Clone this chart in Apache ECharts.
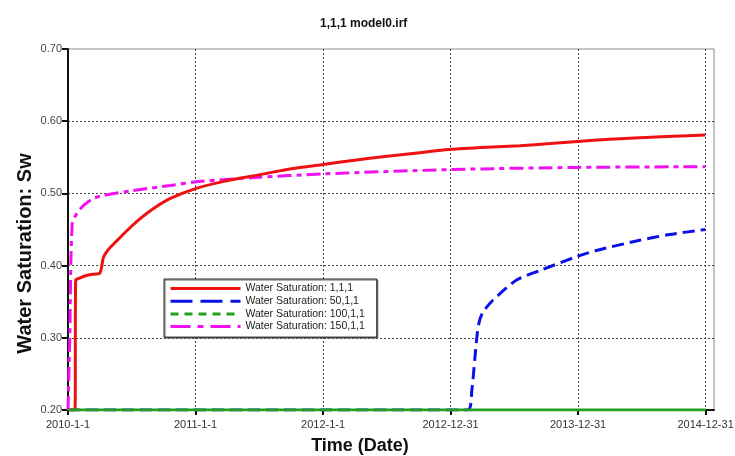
<!DOCTYPE html>
<html>
<head>
<meta charset="utf-8">
<script src="https://cdn.jsdelivr.net/npm/echarts@6/dist/echarts.min.js"></script>
<style>html,body{margin:0;padding:0;background:#fff}#c{width:735px;height:456px}</style>
</head>
<body>
<div id="c"></div>
<script>
// x values are days since 2010-01-01
const xTickDays = [0, 365, 730, 1095, 1460, 1825];
const xTickLabels = ['2010-1-1', '2011-1-1', '2012-1-1', '2012-12-31', '2013-12-31', '2014-12-31'];
const seriesNames = ['Water Saturation: 1,1,1', 'Water Saturation: 50,1,1', 'Water Saturation: 100,1,1', 'Water Saturation: 150,1,1'];

const sw1Days = [0, 20, 22, 35, 50, 70, 90, 96, 101, 115, 141, 170, 199, 245, 293, 367, 450, 550, 640, 730, 820, 907, 1000, 1096, 1200, 1293, 1380, 1459, 1550, 1636, 1730, 1824];
const sw1Vals = [0.20, 0.20, 0.38, 0.383, 0.386, 0.388, 0.389, 0.397, 0.411, 0.422, 0.435, 0.449, 0.462, 0.479, 0.493, 0.507, 0.517, 0.526, 0.534, 0.540, 0.546, 0.551, 0.556, 0.561, 0.564, 0.566, 0.569, 0.572, 0.575, 0.577, 0.579, 0.581];

const sw50Days = [0, 1144, 1156, 1164, 1170, 1176, 1187, 1216, 1284, 1350, 1459, 1521, 1636, 1721, 1824];
const sw50Vals = [0.20, 0.20, 0.228, 0.269, 0.30, 0.32, 0.335, 0.352, 0.38, 0.393, 0.413, 0.422, 0.435, 0.443, 0.45];

const sw100Days = [0, 1825];
const sw100Vals = [0.20, 0.20];

const sw150Days = [0, 5, 12, 25, 44, 73, 101, 187, 293, 367, 536, 730, 1096, 1459, 1824];
const sw150Vals = [0.20, 0.30, 0.458, 0.472, 0.483, 0.493, 0.497, 0.504, 0.511, 0.516, 0.522, 0.527, 0.533, 0.536, 0.537];

const zip = (a, b) => a.map((d, i) => [d, b[i]]);

const colors = ['#ee1111', '#0a10e8', '#22a022', '#f010f0'];
const font = 'Arial, "Liberation Sans", sans-serif';
const hideSym = { opacity: 0, borderWidth: 0 };

const chart = echarts.init(document.getElementById('c'));
chart.setOption({
  animation: false,
  backgroundColor: '#fff',
  title: {
    text: '1,1,1 model0.irf',
    left: 315, top: 13,
    textStyle: { fontFamily: font, fontSize: 12, fontWeight: 'bold', color: '#111' }
  },
  grid: { left: 68, right: 21, top: 49, bottom: 46, show: true, borderColor: '#8a8a8a', borderWidth: 1,
          containLabel: false, outerBoundsMode: 'none' },
  legend: {
    orient: 'vertical', left: 164, top: 279,
    backgroundColor: '#fff', borderColor: '#222', borderWidth: 1,
    shadowColor: '#666', shadowOffsetX: 1, shadowOffsetY: 1, shadowBlur: 0,
    padding: [4, 12, 5, 5],
    itemWidth: 70, itemHeight: 12, itemGap: 1.7,
    textStyle: { fontFamily: font, fontSize: 10.5, color: '#222' },
    data: [
      { name: seriesNames[0], itemStyle: hideSym, lineStyle: { type: 'solid', width: 3 } },
      { name: seriesNames[1], itemStyle: hideSym, lineStyle: { type: [22, 8], width: 3 } },
      { name: seriesNames[2], itemStyle: hideSym, lineStyle: { type: [8, 6], width: 3 } },
      { name: seriesNames[3], itemStyle: hideSym, lineStyle: { type: [20, 7, 6, 7], width: 3 } }
    ]
  },
  xAxis: {
    type: 'value', min: 0, max: 1849, interval: 365,
    name: 'Time (Date)', nameLocation: 'middle', nameGap: 27, nameMoveOverlap: false,
    nameTextStyle: { fontFamily: font, fontSize: 18, fontWeight: 'bold', color: '#111', padding: [0, 62, 0, 0] },
    axisLine: { show: true, lineStyle: { color: '#111', width: 2 } },
    axisTick: { show: true, length: 5, lineStyle: { color: '#111', width: 2 } },
    axisLabel: {
      fontFamily: font, fontSize: 11, color: '#333', margin: 9, showMaxLabel: false,
      formatter: v => { const i = xTickDays.indexOf(v); return i >= 0 ? xTickLabels[i] : ''; }
    },
    splitLine: { show: true, showMinLine: false, showMaxLine: false, lineStyle: { color: '#444', width: 1, type: [2, 2] } }
  },
  yAxis: {
    type: 'value', min: 0.2, max: 0.7, interval: 0.1,
    name: 'Water Saturation: Sw', nameLocation: 'middle', nameGap: 33, nameMoveOverlap: false,
    nameTextStyle: { fontFamily: font, fontSize: 20, fontWeight: 'bold', color: '#111', padding: [0, 48, 0, 0] },
    axisLine: { show: true, lineStyle: { color: '#111', width: 2 } },
    axisTick: { show: true, length: 6, lineStyle: { color: '#111', width: 2 } },
    axisLabel: { fontFamily: font, fontSize: 11, color: '#444', margin: 6, formatter: v => v.toFixed(2) },
    splitLine: { show: true, showMinLine: false, showMaxLine: false, lineStyle: { color: '#444', width: 1, type: [2, 2] } }
  },
  series: [
    { name: seriesNames[1], type: 'line', data: zip(sw50Days, sw50Vals), symbol: 'none', smooth: 0.25,
      lineStyle: { color: colors[1], width: 3, type: [12, 6] }, itemStyle: { color: colors[1] }, z: 2 },
    { name: seriesNames[3], type: 'line', data: zip(sw150Days, sw150Vals), symbol: 'none', smooth: 0.3,
      lineStyle: { color: colors[3], width: 3, type: [14, 5, 5, 5] }, itemStyle: { color: colors[3] }, z: 3 },
    { name: seriesNames[0], type: 'line', data: zip(sw1Days, sw1Vals), symbol: 'none', smooth: 0.2,
      lineStyle: { color: colors[0], width: 3 }, itemStyle: { color: colors[0] }, z: 4 },
    { name: seriesNames[2], type: 'line', data: zip(sw100Days, sw100Vals), symbol: 'none',
      lineStyle: { color: colors[2], width: 3, type: 'solid' }, itemStyle: { color: colors[2] }, z: 5 }
  ]
});
</script>
</body>
</html>
